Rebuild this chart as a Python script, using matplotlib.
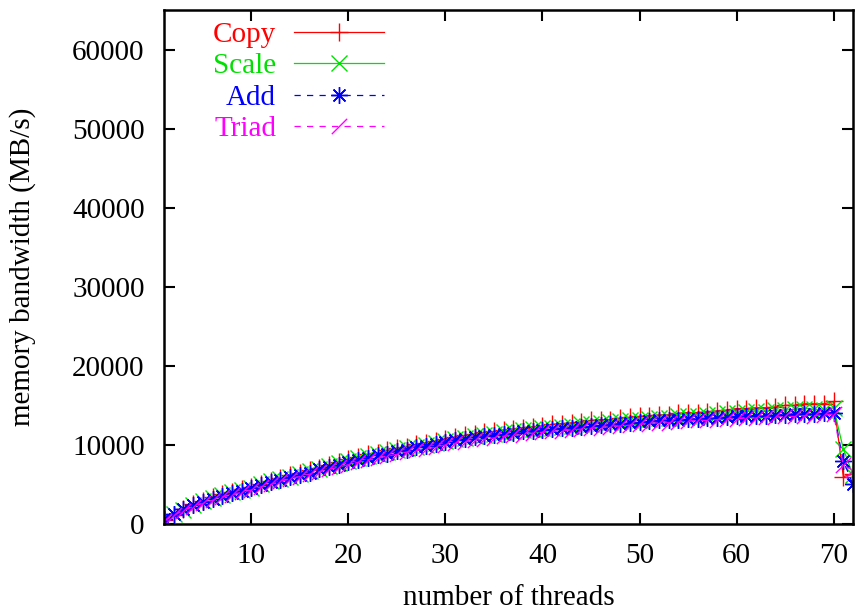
import numpy as np
import matplotlib
matplotlib.use("Agg")
import matplotlib.pyplot as plt

plt.rcParams['font.family'] = ['Liberation Serif', 'DejaVu Serif']

threads = list(range(1, 73))

add = [600, 1300, 1900, 2400, 2800, 3200, 3600, 3900, 4200, 4500,
       4900, 5300, 5600, 5900, 6200, 6500, 6900, 7200, 7500, 7900,
       8100, 8400, 8700, 8900, 9200, 9400, 9700, 9900, 10100, 10400,
       10600, 10800, 11000, 11100, 11300, 11400, 11500, 11700, 11800, 11900,
       12000, 12100, 12200, 12300, 12400, 12500, 12600, 12700, 12800, 12900,
       13000, 13100, 13100, 13200, 13300, 13300, 13400, 13400, 13500, 13600,
       13600, 13700, 13700, 13800, 13800, 13900, 13900, 13900, 14000, 14100,
       8000, 5000]

copy = [500, 1200, 1900, 2500, 2900, 3400, 3800, 4100, 4400, 4700,
        5100, 5500, 5800, 6200, 6500, 6800, 7100, 7500, 7800, 8200,
        8500, 8800, 9000, 9300, 9600, 9800, 10100, 10300, 10500, 10800,
        11000, 11200, 11400, 11600, 11700, 11900, 12000, 12200, 12300, 12400,
        12600, 12700, 12800, 12900, 13100, 13200, 13200, 13400, 13500, 13600,
        13700, 13800, 13800, 14000, 14100, 14100, 14200, 14300, 14400, 14600,
        14600, 14700, 14700, 14800, 15000, 15000, 15200, 15200, 15200, 15500,
        6000, 6300]

scale = [550, 1250, 1800, 2400, 2900, 3300, 3700, 4000, 4300, 4600,
         5000, 5400, 5700, 6000, 6300, 6700, 7000, 7300, 7700, 8000,
         8300, 8600, 8800, 9100, 9400, 9600, 9800, 10000, 10300, 10500,
         10700, 10900, 11100, 11300, 11400, 11600, 11700, 11900, 12000, 12100,
         12200, 12300, 12400, 12600, 12600, 12800, 12900, 13000, 13100, 13200,
         13300, 13400, 13400, 13600, 13600, 13700, 13800, 13900, 14000, 14100,
         14200, 14300, 14200, 14400, 14400, 14500, 14600, 14500, 14400, 14700,
         9500, 6200]

triad = [400, 1100, 1700, 2200, 2600, 3000, 3400, 3700, 4000, 4300,
         4700, 5000, 5400, 5700, 6000, 6300, 6600, 6900, 7200, 7500,
         7800, 8100, 8300, 8600, 8800, 9100, 9300, 9500, 9700, 10000,
         10200, 10400, 10600, 10700, 10900, 11100, 11200, 11300, 11500, 11600,
         11700, 11800, 11900, 12000, 12100, 12200, 12300, 12400, 12500, 12600,
         12700, 12800, 12800, 12900, 13000, 13100, 13100, 13200, 13300, 13300,
         13400, 13400, 13500, 13500, 13600, 13600, 13700, 13700, 13800, 13900,
         7400, 6800]

asterisk = (8, 2, 0)
slash = [(-1, -1), (1, 1)]

fig = plt.figure(figsize=(8.56, 6.11), dpi=100)
ax = fig.add_axes([0.1916, 0.1424, 0.8049, 0.8412])

ax.plot(threads, copy, color='#ff0000', lw=0.9, marker='+', ms=13, mew=1.0, label='Copy')
ax.plot(threads, scale, color='#00e000', lw=0.9, marker='x', ms=11, mew=1.0, label='Scale')
ax.plot(threads, add, color='#0000ff', lw=0.9, ls=(0, (5, 5)), marker=asterisk, ms=12, mew=1.0, label='Add')
ax.plot(threads, triad, color='#ff00ff', lw=0.9, ls=(0, (5, 5)), marker=slash, ms=11, mew=1.0, label='Triad')

ax.set_xlim(1, 72)
ax.set_ylim(0, 65000)
ax.set_xticks(range(10, 71, 10))
ax.set_yticks(range(0, 60001, 10000))
ax.tick_params(direction='in', length=8, width=1.5, top=True, right=True, labelsize=21, pad=14)
for s in ax.spines.values():
    s.set_linewidth(1.8)

ax.set_xlabel('number of threads', fontsize=21, labelpad=11)
ax.set_ylabel('memory bandwidth (MB/s)', fontsize=21, labelpad=26)

leg = ax.legend(loc='upper left', frameon=False, markerfirst=False, fontsize=21,
                handlelength=3.1, labelspacing=0.17, handletextpad=0.6,
                borderaxespad=0.0, bbox_to_anchor=(0.054, 1.0))
for t, h in zip(leg.get_texts(), leg.legend_handles):
    t.set_color(h.get_color())

fig.savefig('out.png', dpi=100)
